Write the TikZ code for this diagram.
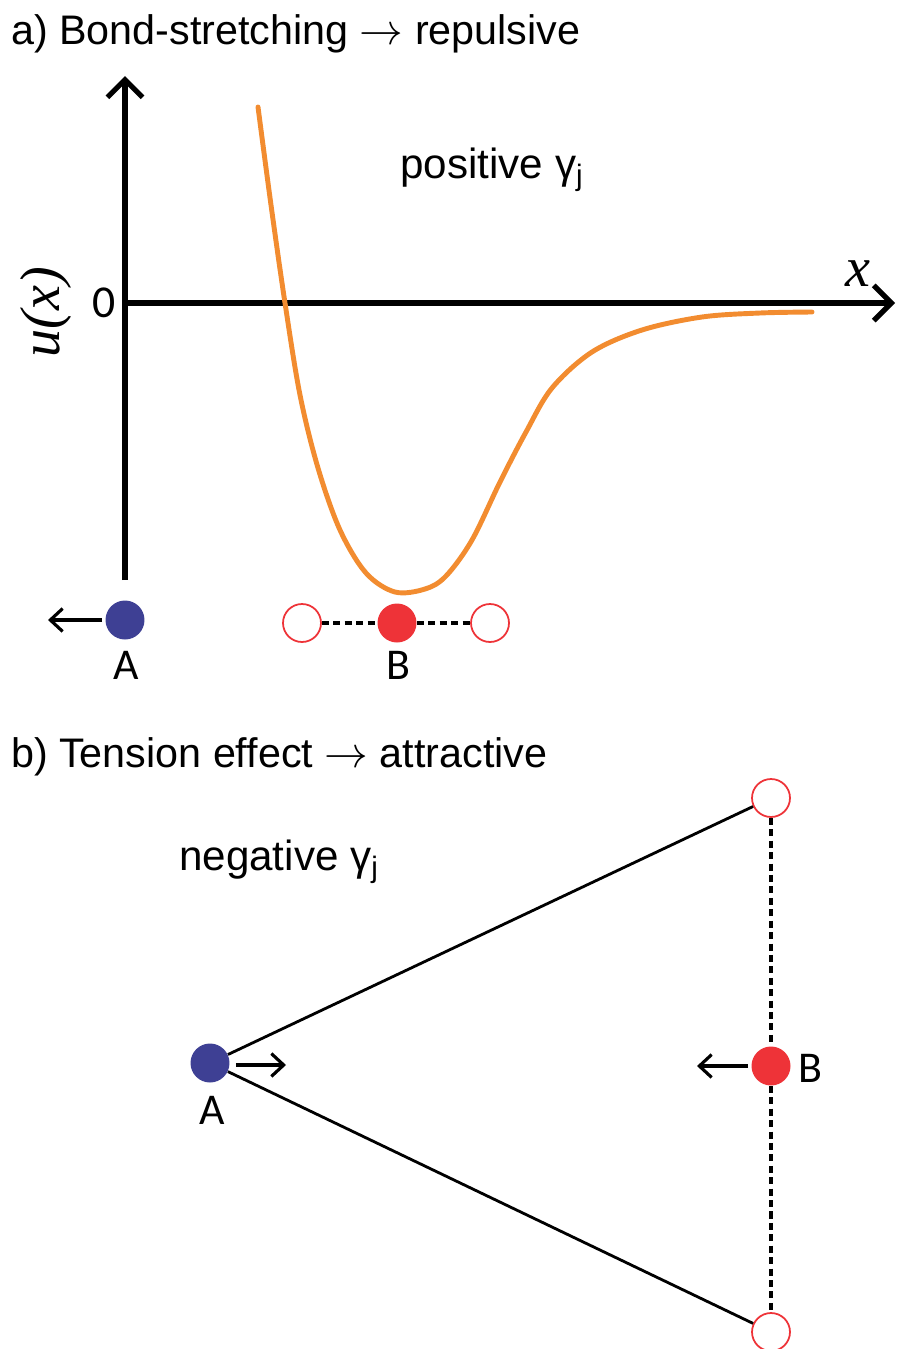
\documentclass[tikz,border=0pt]{standalone}
\usepackage{fontspec}
\setmainfont{Liberation Sans}
\newfontfamily\lblfont{Carlito}
\newfontfamily\varfont{Liberation Serif}
\usepackage{xcolor}
\definecolor{bondblue}{RGB}{62,64,148}
\definecolor{bondred}{RGB}{238,51,56}
\definecolor{curveorange}{RGB}{242,140,48}
\usetikzlibrary{arrows.meta, positioning}

\tikzset{
  atomA/.style={circle, fill=bondblue, inner sep=0pt, minimum size=0.78cm},
  atomB/.style={circle, fill=bondred, inner sep=0pt, minimum size=0.78cm},
  ghostB/.style={circle, draw=bondred, line width=1pt, fill=white, inner sep=0pt, minimum size=0.76cm},
  atomlbl/.style={font=\lblfont\fontsize{25}{29}\selectfont},
  headline/.style={font=\fontsize{23.5}{28}\selectfont, anchor=west, inner sep=1pt},
  axisline/.style={line width=3pt, -{Straight Barb[length=10pt, width=20pt, line width=3pt]}},
  push/.style={line width=1.8pt, -{Straight Barb[length=7pt, width=13pt, line width=1.8pt]}},
  bond/.style={line width=1.6pt},
  spring/.style={line width=1.9pt, dash pattern=on 4pt off 2.5pt}
}

\begin{document}
\begin{tikzpicture}[x=0.02cm, y=-0.02cm]
  \useasboundingbox (0,0) rectangle (896,1349);
  % Part a: potential curve
  \node[headline] (titleA) at (9,34) {a) Bond-stretching $\rightarrow$ repulsive};
  \coordinate (origin) at (125,303);
  \coordinate (ybot) at (125,580);
  \coordinate (ytop) at (125,76);
  \coordinate (xend) at (895,303);
  \draw[axisline] (ybot) -- (ytop);
  \draw[axisline] (origin) -- (xend);
  \node[font=\lblfont\fontsize{26}{30}\selectfont] (zero) at (104,303) {0};
  \node[font=\varfont\itshape\fontsize{32}{36}\selectfont, rotate=90] (ulabel) at (46,312) {u(x)};
  \node[font=\varfont\itshape\fontsize{32}{36}\selectfont] (xlabel) at (858,274) {x};
  \node[font=\fontsize{24}{28}\selectfont] (posg) at (492,170) {positive γ\textsubscript{j}};
  \draw[curveorange, line width=2.8pt, line cap=round] plot[smooth, tension=0.55] coordinates {
    (258,107) (271,205) (285,303) (300,395) (318,468) (340,530) (366,573)
    (395,592) (425,589) (446,576) (472,540) (500,482) (526,432) (552,388)
    (592,352) (642,330) (702,317) (760,313) (812,312)};
  % Part a: atoms
  \node[atomA] (a1) at (125,620) {};
  \node[atomlbl] (a1lbl) at (126,665) {A};
  \coordinate (a1push) at (48,620);
  \draw[push] (a1.west) ++(-3,0) coordinate (a1start) -- (a1push);
  \node[ghostB] (bl) at (302,623) {};
  \node[atomB] (b1) at (397,623) {};
  \node[ghostB] (br) at (490,623) {};
  \node[atomlbl] (b1lbl) at (398,665) {B};
  \draw[spring] (bl) -- (b1);
  \draw[spring] (b1) -- (br);

  % Part b: tension
  \node[headline] (titleB) at (9,757) {b) Tension effect $\rightarrow$ attractive};
  \node[font=\fontsize{24}{28}\selectfont] (negg) at (279,862) {negative γ\textsubscript{j}};
  \node[atomA] (a2) at (210,1063) {};
  \node[atomlbl] (a2lbl) at (212,1110) {A};
  \node[ghostB] (bt) at (771,798) {};
  \node[atomB] (b2) at (771,1066) {};
  \node[ghostB] (bb) at (771,1332) {};
  \node[atomlbl] (b2lbl) at (810,1068) {B};
  \draw[bond] (a2) -- (bt);
  \draw[bond] (a2) -- (bb);
  \draw[spring] (bt) -- (b2);
  \draw[spring] (b2) -- (bb);
  \coordinate (a2push) at (286,1065);
  \coordinate (b2push) at (697,1066);
  \draw[push] (a2.east) ++(6,2) coordinate (a2start) -- (a2push);
  \draw[push] (b2.west) ++(-3,0) coordinate (b2start) -- (b2push);
\end{tikzpicture}
\end{document}
